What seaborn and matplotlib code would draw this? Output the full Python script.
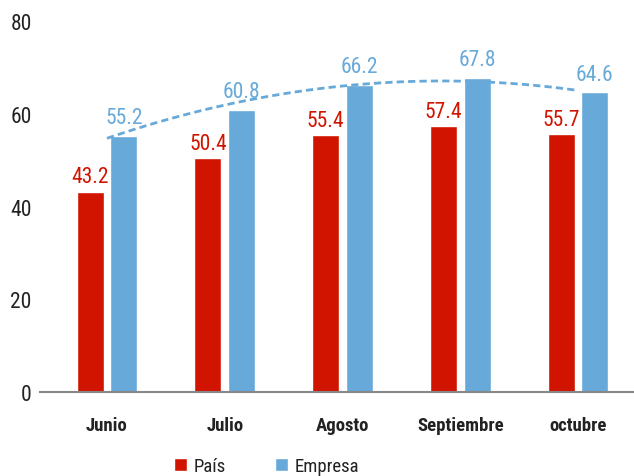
import numpy as np
import pandas as pd
import matplotlib
matplotlib.use("Agg")
import matplotlib.pyplot as plt
import seaborn as sns

# datos
meses = ["Junio", "Julio", "Agosto", "Septiembre", "octubre"]
pais = [43.2, 50.4, 55.4, 57.4, 55.7]
empresa = [55.2, 60.8, 66.2, 67.8, 64.6]

rojo = "#D01400"
azul = "#67A9D9"
texto = "#222222"

sns.set_style("white")
plt.rcParams["font.family"] = ["Roboto Condensed", "Roboto", "DejaVu Sans"]

df = pd.DataFrame({
    "Mes": meses * 2,
    "Valor": pais + empresa,
    "Serie": ["País"] * len(meses) + ["Empresa"] * len(meses),
})

fig = plt.figure(figsize=(6.34, 4.77), dpi=100)
ax = fig.add_axes([40 / 634, 84 / 477, 594 / 634, 371 / 477])

sns.barplot(data=df, x="Mes", y="Valor", hue="Serie",
            palette={"País": rojo, "Empresa": azul},
            width=0.572, gap=0.2, saturation=1, ax=ax, legend=True)

# etiquetas de valor
ax.bar_label(ax.containers[0], fmt="%.1f", padding=3, color=rojo, fontsize=15.5)
ax.bar_label(ax.containers[1], fmt="%.1f", padding=5.5, color=azul, fontsize=15.5)

# linea de tendencia polinomica (orden 2) sobre Empresa
pos = np.arange(len(meses))
coef = np.polyfit(pos, empresa, 2)
xx = np.linspace(0, len(meses) - 1, 100)
ax.plot(xx, np.polyval(coef, xx), linestyle=(0, (2.6, 1.5)),
        color=azul, linewidth=2)

ax.set_ylim(0, 80)
ax.set_xlim(-0.569, 4.476)
ax.set_yticks([0, 20, 40, 60, 80])
ax.set_xlabel("")
ax.set_ylabel("")
for s in ["top", "right", "left"]:
    ax.spines[s].set_visible(False)
ax.spines["bottom"].set_color("#888888")
ax.spines["bottom"].set_linewidth(1.5)
ax.tick_params(axis="y", length=0, labelsize=15.5, labelcolor=texto, pad=6)
ax.tick_params(axis="x", length=0, labelsize=13.5, labelcolor=texto, pad=17)
for t in ax.get_xticklabels():
    t.set_fontweight("bold")

leg = ax.legend(loc="center", bbox_to_anchor=(0.381, -0.2), ncol=2,
                frameon=False, fontsize=13.5, handlelength=0.72, handleheight=0.72,
                columnspacing=2.6, handletextpad=0.35)
for t in leg.get_texts():
    t.set_color(texto)

fig.savefig("out.png", dpi=100)
